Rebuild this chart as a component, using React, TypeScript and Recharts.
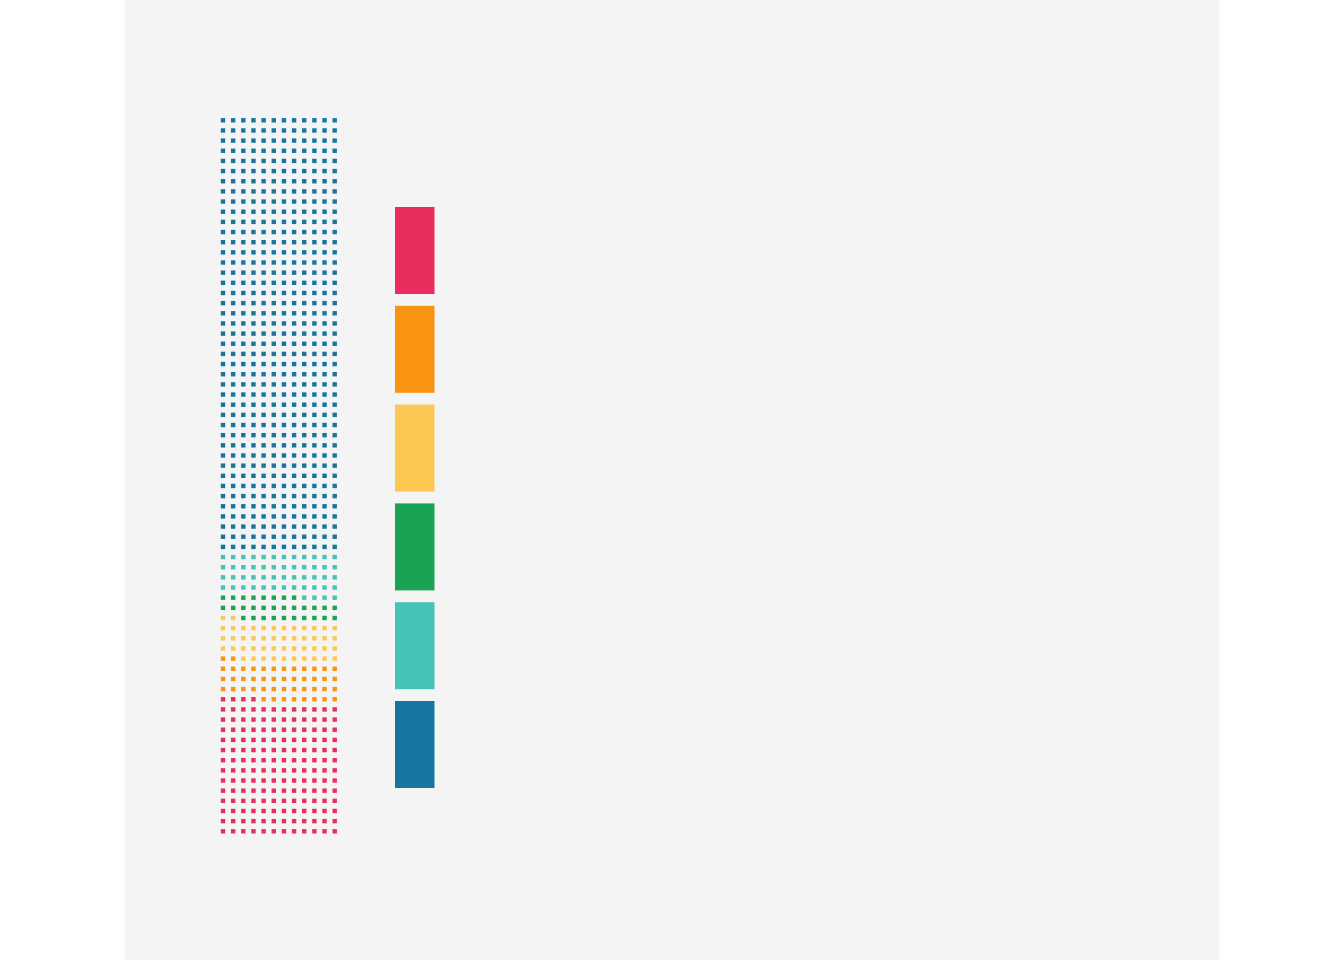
import { Legend, Scatter, ScatterChart, XAxis, YAxis } from "recharts";

// waffle: each cell is one unit, filled left to right, bottom to top
const categories = ["Group 1", "Group 2", "Group 3", "Group 4", "Group 5", "Group 6"];
const counts = [160, 46, 48, 30, 52, 516];
const colors = ["#E92E5D", "#F99412", "#FDC753", "#19A352", "#45C4B6", "#1776A1"];
const columns = 12;

type Cell = { col: number; row: number };

function buildCells(): Cell[][] {
  const out: Cell[][] = [];
  let i = 0;
  counts.forEach((n) => {
    const cells: Cell[] = [];
    for (let k = 0; k < n; k++, i++) {
      cells.push({ col: i % columns, row: Math.floor(i / columns) });
    }
    out.push(cells);
  });
  return out;
}

const SIZE = 4.4;

function Square(props: any) {
  const { cx, cy, fill } = props;
  if (cx == null || cy == null) return null;
  return <rect x={cx - SIZE / 2} y={cy - SIZE / 2} width={SIZE} height={SIZE} fill={fill} />;
}

function LegendBoxes({ payload }: any) {
  const items = payload ?? [];
  return (
    <svg width={40} height={600} style={{ display: "block" }}>
      {items.map((p: any, idx: number) => (
        <rect key={p.value ?? idx} x={0} y={idx * 98.8} width={39.5} height={87} fill={p.color} />
      ))}
    </svg>
  );
}

export default function App() {
  const cells = buildCells();
  const rows = Math.ceil(counts.reduce((a, b) => a + b, 0) / columns);
  return (
    <div style={{ position: "absolute", left: 0, top: 0, width: 1344, height: 960, background: "#fff" }}>
      <div style={{ position: "absolute", left: 125, top: 0, width: 1094, height: 960, background: "#F4F4F4" }} />
      <div style={{ position: "absolute", left: 0, top: 0 }}>
        <ScatterChart
          width={1344}
          height={960}
          margin={{ top: 120.3, right: 1009.3, bottom: 128.7, left: 223 }}
        >
          <XAxis type="number" dataKey="col" domain={[0, columns - 1]} hide />
          <YAxis type="number" dataKey="row" domain={[0, rows - 1]} hide />
          {/* centred + middle so the legend reserves no room in the plot offset */}
          <Legend
            layout="vertical"
            align="center"
            verticalAlign="middle"
            content={<LegendBoxes />}
            wrapperStyle={{ position: "absolute", left: 395.3, top: 207.3, width: 40, height: 600 }}
          />
          {categories.map((name, i) => (
            <Scatter
              key={name}
              name={name}
              data={cells[i]}
              fill={colors[i]}
              shape={<Square />}
              isAnimationActive={false}
            />
          ))}
        </ScatterChart>
      </div>
    </div>
  );
}
